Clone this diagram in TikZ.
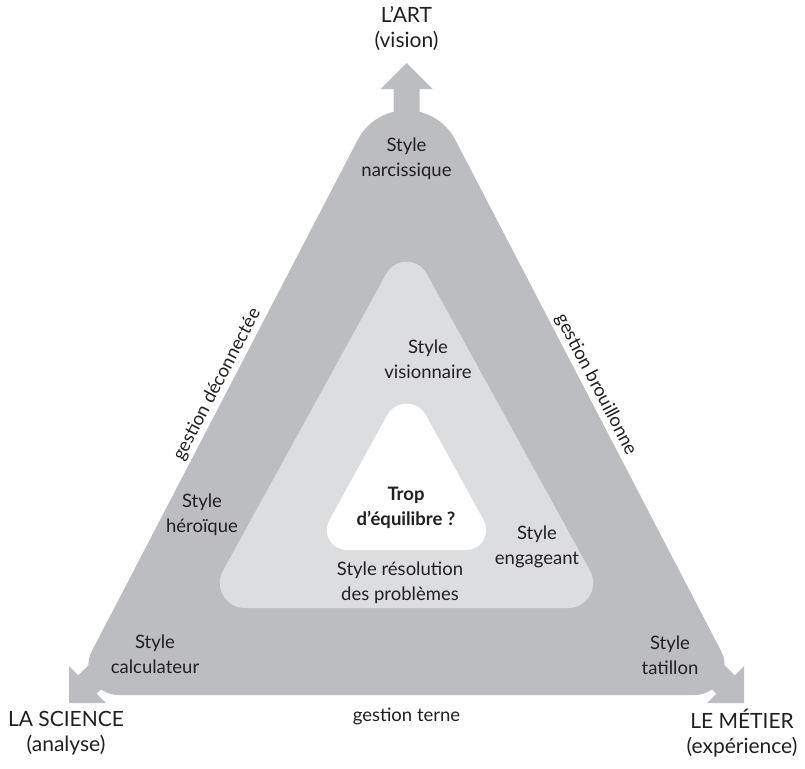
\documentclass[tikz,border=0pt]{standalone}
\usepackage{fontspec}
\setmainfont{Lato}
\usetikzlibrary{calc}
\definecolor{outergray}{RGB}{188,189,192}
\definecolor{innergray}{RGB}{220,221,223}
\definecolor{ink}{RGB}{35,31,32}
\newcommand\RoundTri[7]{%
  \pgfmathsetmacro\RTal{atan((#5)/((#4)-(#3)))}%
  \pgfmathsetmacro\RTbe{(90-\RTal)/2}%
  \pgfmathsetmacro\RTacy{(#3)+(#6)/sin(\RTal)}%
  \pgfmathsetmacro\RTbdx{(#7)/tan(\RTbe)}%
  \pgfmathsetmacro\RTa{180+\RTal}%
  \pgfmathsetmacro\RTb{360-\RTal}%
  \pgfmathsetmacro\RTc{-\RTal}%
  \pgfmathsetmacro\RTrx{(#2)+(#5)-\RTbdx}%
  \pgfmathsetmacro\RTlx{(#2)-(#5)+\RTbdx}%
  \pgfmathsetmacro\RTby{(#4)-(#7)}%
  \fill[#1] ($(#2,\RTacy)+(\RTa:#6)$) arc[start angle=\RTa, end angle=\RTb, radius=#6]
    -- ($(\RTrx,\RTby)+(\RTc:#7)$) arc[start angle=\RTc, end angle=90, radius=#7]
    -- ($(\RTlx,\RTby)+(90:#7)$) arc[start angle=90, end angle=\RTa, radius=#7]
    -- cycle;
}
\tikzset{
  lbl/.style={font=\fontsize{18.5}{25}\selectfont, align=center, inner sep=0pt, text=ink},
  biglbl/.style={font=\fontsize{21}{25}\selectfont, align=center, inner sep=0pt, text=ink},
  sidelbl/.style={font=\fontsize{18.5}{25}\selectfont, inner sep=3pt, text=ink},
}
\begin{document}
\begin{tikzpicture}[x=1pt,y=-1pt]
\useasboundingbox (0,0) rectangle (805,768);
% outer body
\RoundTri{outergray}{406.5}{46}{695}{337.5}{55}{30}
% arrows
\fill[outergray] (406.5,63) -- (432.5,89) -- (419.5,89) -- (419.5,140) -- (393.5,140) -- (393.5,89) -- (380.5,89) -- cycle;
\fill[outergray] (69,703) -- (105.8,703) -- (96.6,693.8) -- (139,651.4) -- (120.6,633) -- (78.2,675.4) -- (69,666.2) -- cycle;
\fill[outergray] (744,703) -- (707.2,703) -- (716.4,693.8) -- (674,651.4) -- (692.4,633) -- (734.8,675.4) -- (744,666.2) -- cycle;
% middle and inner
\RoundTri{innergray}{406.5}{237}{608}{204}{23}{25}
\RoundTri{white}{406.5}{380}{550}{93.5}{22}{20}
% labels
\node[biglbl] (art) at (406.5,29) {L’ART\\(vision)};
\node[lbl] (narc) at (406.5,159) {Style\\narcissique};
\node[lbl] (vis) at (428,359) {Style\\visionnaire};
\node[lbl, font=\fontsize{18.5}{25}\selectfont\bfseries] (trop) at (406,508) {Trop\\d’équilibre ?};
\node[lbl] (hero) at (202,515) {Style\\héroïque};
\node[lbl] (reso) at (400,583) {Style résolution\\des problèmes};
\node[lbl] (eng) at (537,547) {Style\\engageant};
\node[lbl] (calc) at (155,654) {Style\\calculateur};
\node[lbl] (tat) at (670,655) {Style\\tatillon};
\node[biglbl] (sci) at (66,733) {LA SCIENCE\\(analyse)};
\node[biglbl] (met) at (742,733) {LE MÉTIER\\(expérience)};
\node[lbl] (terne) at (406.5,716) {gestion terne};
\coordinate (le) at (227.6,390);
\coordinate (re) at (585.4,390);
\node[sidelbl, rotate=62.5, anchor=south] (deco) at (le) {gestion déconnectée};
\node[sidelbl, rotate=-62.5, anchor=south] (brou) at (re) {gestion brouillonne};
\end{tikzpicture}
\end{document}
